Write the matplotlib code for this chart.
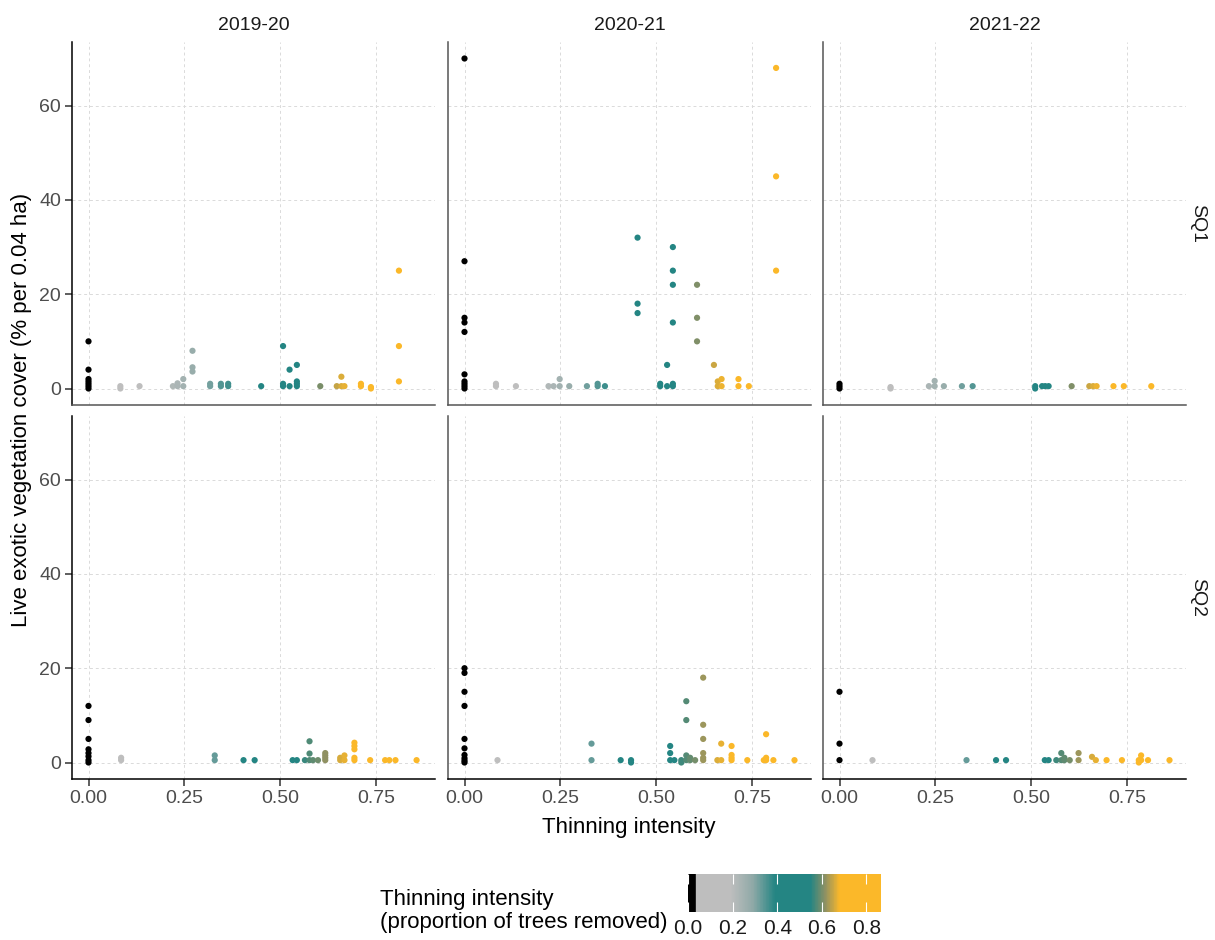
import matplotlib
matplotlib.use("Agg")
import matplotlib.pyplot as plt
from matplotlib.colors import LinearSegmentedColormap, Normalize
from matplotlib.cm import ScalarMappable

plt.rcParams['font.family'] = ['Liberation Sans', 'DejaVu Sans']

# thinning intensity (x) and live exotic cover (y), one pair of lists per panel
x_1920_sq1 = [0, 0, 0, 0, 0, 0, 0, 0.083, 0.083, 0.133, 0.22, 0.232, 0.232, 0.247, 0.247,
              0.271, 0.271, 0.271, 0.317, 0.317, 0.345, 0.345, 0.364, 0.364, 0.45,
              0.507, 0.507, 0.507, 0.524, 0.524, 0.543, 0.543, 0.543, 0.543, 0.604,
              0.647, 0.659, 0.659, 0.667, 0.71, 0.71, 0.736, 0.736, 0.809, 0.809, 0.809]
y_1920_sq1 = [10, 4, 2, 1.5, 1, 0.5, 0, 0.5, 0, 0.5, 0.5, 0.5, 1.1, 0.5, 2,
              8, 4.5, 3.6, 0.5, 1, 0.5, 1, 0.5, 1, 0.5,
              9, 0.5, 1, 4, 0.5, 5, 1.5, 1, 0.5, 0.5,
              0.5, 2.5, 0.5, 0.5, 0.5, 1, 0, 0.3, 25, 9, 1.5]

x_2021_sq1 = [0, 0, 0, 0, 0, 0, 0, 0, 0, 0, 0.082, 0.082, 0.134, 0.219, 0.232, 0.248, 0.248,
              0.273, 0.319, 0.347, 0.347, 0.366, 0.451, 0.451, 0.451, 0.51, 0.51,
              0.528, 0.528, 0.543, 0.543, 0.543, 0.543, 0.543, 0.543, 0.606, 0.606, 0.606,
              0.65, 0.66, 0.66, 0.67, 0.67, 0.714, 0.714, 0.741, 0.812, 0.812, 0.812]
y_2021_sq1 = [70, 27, 15, 14, 12, 3, 1.5, 1, 0.5, 0, 0.5, 1, 0.5, 0.5, 0.5, 0.5, 2,
              0.5, 0.5, 0.5, 1, 0.5, 32, 18, 16, 0.5, 1,
              5, 0.5, 30, 25, 22, 14, 1, 0.5, 22, 15, 10,
              5, 0.5, 1.5, 0.5, 2, 0.5, 2, 0.5, 68, 45, 25]

x_2122_sq1 = [0, 0, 0, 0.133, 0.133, 0.233, 0.248, 0.248, 0.272, 0.319, 0.347,
              0.51, 0.51, 0.528, 0.536, 0.545, 0.605, 0.651, 0.661, 0.67, 0.714, 0.741, 0.8125]
y_2122_sq1 = [1, 0.5, 0, 0.3, 0, 0.5, 0.5, 1.6, 0.5, 0.5, 0.5,
              0, 0.5, 0.5, 0.5, 0.5, 0.5, 0.5, 0.5, 0.5, 0.5, 0.5, 0.5]

x_1920_sq2 = [0, 0, 0, 0, 0, 0, 0, 0, 0.085, 0.085, 0.329, 0.329, 0.404, 0.433, 0.532, 0.543,
              0.564, 0.576, 0.576, 0.576, 0.585, 0.598, 0.617, 0.617, 0.617, 0.617,
              0.656, 0.656, 0.667, 0.667, 0.693, 0.693, 0.693, 0.693, 0.693,
              0.734, 0.773, 0.784, 0.80, 0.855]
y_1920_sq2 = [12, 9, 5, 2.8, 2, 1.3, 0.5, 0, 0.5, 1, 1.5, 0.5, 0.5, 0.5, 0.5, 0.5,
              0.5, 4.5, 1.9, 0.5, 0.5, 0.5, 0.5, 1, 1.5, 2,
              0.5, 1, 0.5, 1.5, 4.2, 3.5, 2.8, 1, 0.5,
              0.5, 0.5, 0.5, 0.5, 0.5]

x_2021_sq2 = [0, 0, 0, 0, 0, 0, 0, 0, 0, 0, 0.086, 0.331, 0.331, 0.407, 0.434, 0.434,
              0.536, 0.536, 0.536, 0.547, 0.565, 0.565, 0.578, 0.578, 0.578, 0.578,
              0.588, 0.588, 0.601, 0.622, 0.622, 0.622, 0.622, 0.622, 0.622,
              0.659, 0.669, 0.669, 0.696, 0.696, 0.696, 0.696, 0.737, 0.78,
              0.786, 0.786, 0.786, 0.805, 0.86]
y_2021_sq2 = [20, 19, 15, 12, 5, 3, 1.6, 0.9, 0.4, 0, 0.5, 4, 0.5, 0.5, 0.5, 0,
              3.5, 2, 0.5, 0.5, 0, 0.5, 13, 9, 1.5, 0.5,
              0.5, 1, 0.5, 18, 8, 5, 2, 1, 0.5,
              0.5, 4, 0.5, 3.5, 1.6, 1, 0.5, 0.5, 0.5,
              6, 1, 0.5, 0.5, 0.5]

x_2122_sq2 = [0, 0, 0, 0.086, 0.331, 0.408, 0.434, 0.535, 0.545, 0.565, 0.578, 0.578,
              0.586, 0.586, 0.6, 0.623, 0.623, 0.658, 0.668, 0.696, 0.736, 0.78, 0.78,
              0.786, 0.786, 0.804, 0.86]
y_2122_sq2 = [15, 4, 0.5, 0.5, 0.5, 0.5, 0.5, 0.5, 0.5, 0.5, 2, 0.5,
              1, 0.5, 0.5, 2, 0.5, 1.2, 0.5, 0.5, 0.5, 0.5, 0,
              1.5, 0.5, 0.5, 0.5]

years = ["2019-20", "2020-21", "2021-22"]
quadrats = ["SQ1", "SQ2"]
panels = [[(x_1920_sq1, y_1920_sq1), (x_2021_sq1, y_2021_sq1), (x_2122_sq1, y_2122_sq1)],
          [(x_1920_sq2, y_1920_sq2), (x_2021_sq2, y_2021_sq2), (x_2122_sq2, y_2122_sq2)]]

x_ticks = [0, 0.25, 0.5, 0.75]
y_ticks = [0, 20, 40, 60]
cbar_ticks = [0.0, 0.2, 0.4, 0.6, 0.8]

# colour scale: black -> grey -> teal -> gold (extra mid stops keep the blends greyish)
vmax = 0.865
stops = [(0.0, "#000000"), (0.03, "#000000"), (0.033, "#BEBEBE"), (0.19, "#BEBEBE"),
         (0.29, "#8FA9A7"), (0.39, "#248583"), (0.55, "#248583"), (0.615, "#8C9064"),
         (0.68, "#FBB829"), (vmax, "#FBB829")]
cmap = LinearSegmentedColormap.from_list("thin", [(p / vmax, c) for p, c in stops])
norm = Normalize(0, vmax)

W, H = 1215, 940
fig = plt.figure(figsize=(W / 100, H / 100), dpi=100)

col_left = [72, 448, 823]
col_w = 363
row_top = [42, 416]
row_h = 363
tick_grey = "#4D4D4D"

for r in range(2):
    for c in range(3):
        ax = fig.add_axes([col_left[c] / W, 1 - (row_top[r] + row_h) / H, col_w / W, row_h / H])
        xs, ys = panels[r][c]
        ax.scatter(xs, ys, c=xs, cmap=cmap, norm=norm, s=20, linewidths=0, zorder=3)
        ax.set_xlim(-0.043, 0.903)
        ax.set_ylim(-3.5, 73.5)
        ax.set_xticks(x_ticks)
        ax.set_yticks(y_ticks)
        ax.grid(True, color="#DADADA", linestyle=(0, (3, 3)), linewidth=0.7)
        ax.set_axisbelow(True)
        for s in ["top", "right"]:
            ax.spines[s].set_visible(False)
        show_y = c == 0
        show_x = r == 1
        ax.spines["left"].set_color("black" if show_y else "#555555")
        ax.spines["bottom"].set_color("black" if show_x else "#555555")
        ax.spines["left"].set_linewidth(1.1)
        ax.spines["bottom"].set_linewidth(1.1)
        ax.tick_params(axis="y", length=5 if show_y else 0, width=1.1, pad=3,
                       labelleft=show_y, labelsize=14, labelcolor=tick_grey, color="#333333")
        ax.tick_params(axis="x", length=5 if show_x else 0, width=1.1, pad=3,
                       labelbottom=show_x, labelsize=14, labelcolor=tick_grey, color="#333333")
        ax.xaxis.set_major_formatter(plt.FormatStrFormatter("%.2f"))
        if r == 0:
            ax.set_title(years[c], fontsize=14, color="#1A1A1A", pad=9)
        if c == 2:
            ax.text(1.033, 0.5, quadrats[r], transform=ax.transAxes, rotation=270,
                    ha="center", va="center", fontsize=14, color="#1A1A1A")

fig.text(629 / W, 1 - 828 / H, "Thinning intensity", ha="center", va="center", fontsize=16)
fig.text(22 / W, 1 - 410 / H, "Live exotic vegetation cover (% per 0.04 ha)",
         ha="center", va="center", rotation=90, fontsize=16)

# colour bar legend
cax = fig.add_axes([688 / W, 1 - 912 / H, 193 / W, 38 / H])
cb = fig.colorbar(ScalarMappable(norm=norm, cmap=cmap), cax=cax, orientation="horizontal")
cb.outline.set_visible(False)
cb.set_ticks(cbar_ticks)
cax.xaxis.set_major_formatter(plt.FormatStrFormatter("%.1f"))
cax.tick_params(axis="x", direction="in", length=7, width=0.8, color="white",
                top=True, bottom=True, labelsize=15, pad=5, labelcolor="#1A1A1A")
fig.text(380 / W, 1 - 911 / H, "Thinning intensity\n(proportion of trees removed)",
         ha="left", va="center", fontsize=16, linespacing=1.1)

fig.savefig("out.png", dpi=100)
